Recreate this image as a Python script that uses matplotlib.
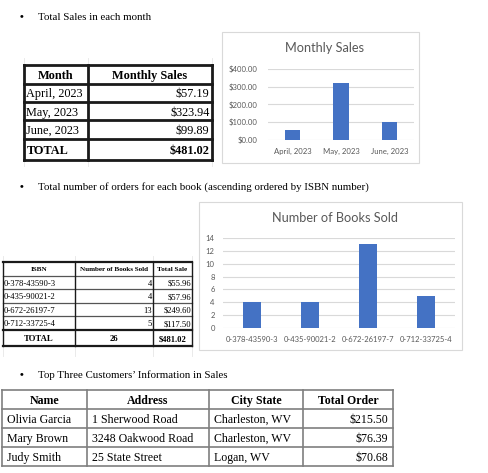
import matplotlib
matplotlib.use("Agg")
import matplotlib.pyplot as plt

# ---------------- data ----------------
months = ["April, 2023", "May, 2023", "June, 2023"]
monthly_sales = [57.19, 323.94, 99.89]

isbns = ["0-378-43590-3", "0-435-90021-2", "0-672-26197-7", "0-712-33725-4"]
books_sold = [4, 4, 13, 5]
book_sales = [55.96, 57.96, 249.60, 117.50]

cust_names = ["Olivia Garcia", "Mary Brown", "Judy Smith"]
cust_addresses = ["1 Sherwood Road", "3248 Oakwood Road", "25 State Street"]
cust_cities = ["Charleston, WV", "Charleston, WV", "Logan, WV"]
cust_totals = [215.50, 76.39, 70.68]

sales_ticks = [0, 100, 200, 300, 400]
books_ticks = [0, 2, 4, 6, 8, 10, 12, 14]

# ---------------- layout helpers ----------------
W, H = 489, 473
SERIF = "Liberation Serif"
SANS = "Lato"
GRAYTXT = "#595959"
BAR = "#4472C4"

fig = plt.figure(figsize=(W / 100, H / 100), dpi=100)
fig.patch.set_facecolor("white")

ov = fig.add_axes([0, 0, 1, 1], zorder=0)
ov.set_xlim(0, W)
ov.set_ylim(H, 0)
ov.axis("off")


def ax_px(x0, y0, x1, y1):
    return fig.add_axes([x0 / W, 1 - y1 / H, (x1 - x0) / W, (y1 - y0) / H], zorder=2)


def money(v):
    return f"${v:,.2f}"


def bullet(y, text, size=7.8):
    ov.text(22, y, "\u2022", fontsize=size, family=SERIF, va="center", ha="center", fontweight="bold")
    ov.text(38, y, text, fontsize=size, family=SERIF, va="center", ha="left")


def draw_cells(cols, rows, cells, aligns, bold_rows, size, pad=2.5, header_size=None):
    for r, row in enumerate(cells):
        yc = (rows[r] + rows[r + 1]) / 2
        fs = header_size if (r == 0 and header_size) else size
        for c, txt in enumerate(row):
            a = aligns[r][c]
            if a == "left":
                x = cols[c] + pad
            elif a == "right":
                x = cols[c + 1] - pad
            else:
                x = (cols[c] + cols[c + 1]) / 2
            ov.text(x, yc, txt, fontsize=fs, family=SERIF, ha=a, va="center_baseline",
                    fontweight="bold" if r in bold_rows else "normal", color="black")


# ---------------- section 1 ----------------
bullet(17, "Total Sales in each month")

# faint spreadsheet gridlines
for x in (24, 88, 212):
    ov.plot([x, x], [58, 166], color="#e6e6e6", lw=0.6)

t1_cols = [24, 88, 212]
t1_rows = [65, 84, 102, 120, 139, 160]
t1_cells = [["Month", "Monthly Sales"]]
t1_aligns = [["center", "center"]]
for m, v in zip(months, monthly_sales):
    t1_cells.append([m, money(v)])
    t1_aligns.append(["left", "right"])
t1_cells.append(["TOTAL", money(sum(monthly_sales))])
t1_aligns.append(["left", "right"])
for y in t1_rows:
    ov.plot([t1_cols[0], t1_cols[-1]], [y, y], color="#1a1a1a", lw=2.0, solid_capstyle="projecting")
for x in t1_cols:
    ov.plot([x, x], [t1_rows[0], t1_rows[-1]], color="#1a1a1a", lw=2.0, solid_capstyle="projecting")
draw_cells(t1_cols, t1_rows, t1_cells, t1_aligns, bold_rows={0, 4}, size=8.8)

# chart 1 frame
ov.add_patch(plt.Rectangle((222, 32), 197, 131, facecolor="white", edgecolor="#d9d9d9", lw=0.8))
fig.text(325 / W, 1 - 48 / H, "Monthly Sales", fontsize=9.2, family=SANS, color=GRAYTXT,
         ha="center", va="center")
ax1 = ax_px(268, 69, 414, 140)
ax1.set_facecolor("none")
ax1.bar(range(len(months)), monthly_sales, width=0.31, color=BAR, zorder=3)
ax1.set_xlim(-0.5, len(months) - 0.5)
ax1.set_ylim(sales_ticks[0], sales_ticks[-1])
ax1.set_yticks(sales_ticks)
ax1.set_yticklabels([money(t) for t in sales_ticks])
ax1.set_xticks(range(len(months)))
ax1.set_xticklabels(months)
ax1.yaxis.grid(True, color="#d9d9d9", lw=0.8)
ax1.set_axisbelow(True)
for s in ax1.spines.values():
    s.set_visible(False)
ax1.tick_params(axis="both", length=0, labelsize=5.6, labelcolor=GRAYTXT)
ax1.tick_params(axis="y", pad=7.5)
ax1.tick_params(axis="x", pad=6)
for lab in ax1.get_xticklabels() + ax1.get_yticklabels():
    lab.set_family(SANS)

# ---------------- section 2 ----------------
bullet(187, "Total number of orders for each book (ascending ordered by ISBN number)")

for x in (3, 75, 153, 192):
    ov.plot([x, x], [256, 356], color="#e6e6e6", lw=0.6)

t2_cols = [3, 75, 153, 192]
t2_rows = [262, 276, 289, 303, 316, 330, 346]
t2_cells = [["ISBN", "Number of Books Sold", "Total Sale"]]
t2_aligns = [["center", "center", "center"]]
for i, n, v in zip(isbns, books_sold, book_sales):
    t2_cells.append([i, str(n), money(v)])
    t2_aligns.append(["left", "right", "right"])
t2_cells.append(["TOTAL", str(sum(books_sold)), money(sum(book_sales))])
t2_aligns.append(["center", "center", "center"])
for k, y in enumerate(t2_rows):
    lw = 1.6 if k in (0, 5, 6) else 0.9
    col = "#1a1a1a" if k in (0, 5, 6) else "#555555"
    ov.plot([t2_cols[0], t2_cols[-1]], [y, y], color=col, lw=lw, solid_capstyle="projecting")
for x in t2_cols:
    ov.plot([x, x], [t2_rows[0], t2_rows[-1]], color="#1a1a1a", lw=1.0)
draw_cells(t2_cols, t2_rows, t2_cells, t2_aligns, bold_rows={0, 5}, size=6.2, pad=1.0,
           header_size=5.1)

# chart 2 frame
ov.add_patch(plt.Rectangle((199, 202), 263, 148, facecolor="white", edgecolor="#d9d9d9", lw=0.8))
fig.text(335 / W, 1 - 218 / H, "Number of Books Sold", fontsize=9.2, family=SANS, color=GRAYTXT,
         ha="center", va="center")
ax2 = ax_px(223, 238, 455, 328)
ax2.set_facecolor("none")
ax2.bar(range(len(isbns)), books_sold, width=0.32, color=BAR, zorder=3)
ax2.set_xlim(-0.5, len(isbns) - 0.5)
ax2.set_ylim(books_ticks[0], books_ticks[-1])
ax2.set_yticks(books_ticks)
ax2.set_xticks(range(len(isbns)))
ax2.set_xticklabels(isbns)
ax2.yaxis.grid(True, color="#d9d9d9", lw=0.8)
ax2.set_axisbelow(True)
for s in ax2.spines.values():
    s.set_visible(False)
ax2.tick_params(axis="both", length=0, labelsize=5.5, labelcolor=GRAYTXT)
ax2.tick_params(axis="y", pad=6)
ax2.tick_params(axis="x", pad=6)
for lab in ax2.get_xticklabels() + ax2.get_yticklabels():
    lab.set_family(SANS)

# ---------------- section 3 ----------------
bullet(375, "Top Three Customers\u2019 Information in Sales")

t3_cols = [2, 87, 209, 303, 393]
t3_rows = [390, 409, 428, 447, 466]
t3_cells = [["Name", "Address", "City State", "Total Order"]]
t3_aligns = [["center"] * 4]
for n, a, c, t in zip(cust_names, cust_addresses, cust_cities, cust_totals):
    t3_cells.append([n, a, c, money(t)])
    t3_aligns.append(["left", "left", "left", "right"])
for y in t3_rows:
    ov.plot([t3_cols[0], t3_cols[-1]], [y, y], color="#7f7f7f", lw=1.2, solid_capstyle="projecting")
for x in t3_cols:
    ov.plot([x, x], [t3_rows[0], t3_rows[-1]], color="#7f7f7f", lw=1.2, solid_capstyle="projecting")
draw_cells(t3_cols, t3_rows, t3_cells, t3_aligns, bold_rows={0}, size=8.6, pad=5)

fig.savefig("out.png", dpi=100, facecolor="white")
